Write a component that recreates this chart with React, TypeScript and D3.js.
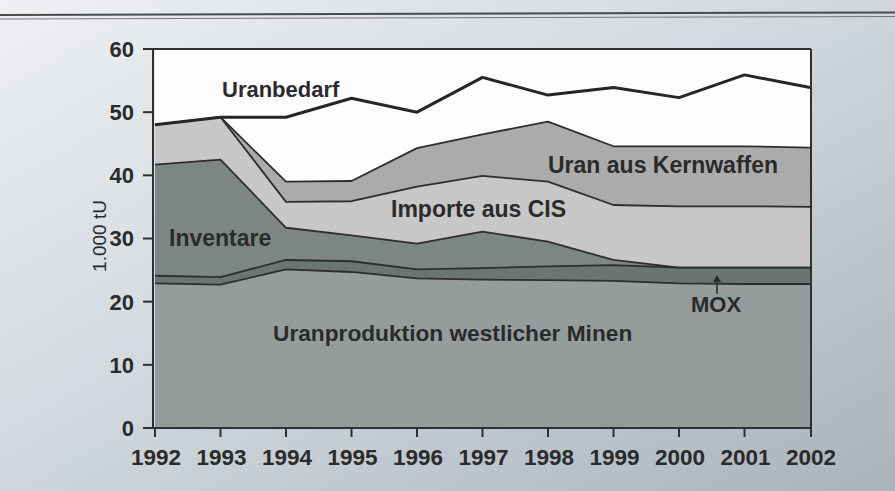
import React, { useEffect, useRef } from 'react';
import * as d3 from 'd3';

const W = 895;
const H = 491;

const years = [1992, 1993, 1994, 1995, 1996, 1997, 1998, 1999, 2000, 2001, 2002];
// 1.000 tU
const produktion = [22.9, 22.7, 25.1, 24.7, 23.7, 23.5, 23.4, 23.3, 22.9, 22.8, 22.8];
const mox = [1.2, 1.2, 1.5, 1.7, 1.4, 1.8, 2.2, 2.5, 2.5, 2.6, 2.6];
const inventare = [17.6, 18.6, 5.1, 4.1, 4.1, 5.8, 3.9, 0.8, 0, 0, 0];
const importe = [6.3, 6.7, 4.1, 5.4, 9.0, 8.8, 9.5, 8.7, 9.7, 9.7, 9.6];
const kernwaffen = [0, 0, 3.2, 3.2, 6.1, 6.6, 9.5, 9.3, 9.5, 9.5, 9.4];
const bedarf = [48.0, 49.2, 49.2, 52.2, 50.0, 55.5, 52.7, 53.9, 52.3, 55.9, 53.9];
const yTicks = [0, 10, 20, 30, 40, 50, 60];

const layerKeys = ['produktion', 'mox', 'inventare', 'importe', 'kernwaffen'];
const layerFill = {
    produktion: '#969b9b',
    mox: '#6d7572',
    inventare: '#7e8684',
    importe: '#c7c7c7',
    kernwaffen: '#ababab',
};

const font = '"Liberation Sans", Arial, sans-serif';
const ink = '#2b2b2b';

function UranChart() {
    const ref = useRef(null);

    useEffect(() => {
        const svg = d3.select(ref.current);
        svg.selectAll('*').remove();

        const left = 155, right = 810, top = 49, bottom = 428;
        const x = d3.scaleLinear().domain([1992, 2002]).range([left, right]);
        const y = d3.scaleLinear().domain([0, 60]).range([bottom, top]);

        // paper background
        const defs = svg.append('defs');
        const grad = defs.append('linearGradient')
            .attr('id', 'paper')
            .attr('x1', '0').attr('y1', '0').attr('x2', '1').attr('y2', '1');
        grad.append('stop').attr('offset', '0').attr('stop-color', '#eef0f2');
        grad.append('stop').attr('offset', '0.45').attr('stop-color', '#d3d9de');
        grad.append('stop').attr('offset', '1').attr('stop-color', '#a9b3bb');
        svg.append('rect').attr('width', W).attr('height', H).attr('fill', 'url(#paper)');

        // double rule on top
        svg.append('line').attr('x1', 0).attr('x2', W).attr('y1', 15).attr('y2', 12.5)
            .attr('stroke', '#4a4a4a').attr('stroke-width', 2);
        svg.append('line').attr('x1', 0).attr('x2', W).attr('y1', 19).attr('y2', 16.5)
            .attr('stroke', '#777').attr('stroke-width', 1);

        // plot background
        svg.append('rect')
            .attr('x', left).attr('y', top)
            .attr('width', right - left).attr('height', bottom - top)
            .attr('fill', '#fdfdfd');

        const table = years.map((yr, i) => ({
            year: yr,
            produktion: produktion[i],
            mox: mox[i],
            inventare: inventare[i],
            importe: importe[i],
            kernwaffen: kernwaffen[i],
        }));
        const series = d3.stack().keys(layerKeys)(table);

        const area = d3.area()
            .x(d => x(d.data.year))
            .y0(d => y(d[0]))
            .y1(d => y(d[1]));
        const topLine = d3.line()
            .x(d => x(d.data.year))
            .y(d => y(d[1]));

        svg.append('g').selectAll('path').data(series).enter()
            .append('path')
            .attr('d', area)
            .attr('fill', s => layerFill[s.key]);

        svg.append('g').selectAll('path').data(series).enter()
            .append('path')
            .attr('d', topLine)
            .attr('fill', 'none')
            .attr('stroke', '#2e2e2e')
            .attr('stroke-width', 1.8)
            .attr('stroke-linejoin', 'round');

        const bedarfLine = d3.line()
            .x((d, i) => x(years[i]))
            .y(d => y(d));
        svg.append('path')
            .attr('d', bedarfLine(bedarf))
            .attr('fill', 'none')
            .attr('stroke', '#262626')
            .attr('stroke-width', 3)
            .attr('stroke-linejoin', 'round');

        // frame
        const frame = '#303030';
        svg.append('line').attr('x1', left - 2).attr('x2', right + 1).attr('y1', top).attr('y2', top)
            .attr('stroke', frame).attr('stroke-width', 2);
        svg.append('line').attr('x1', right + 1).attr('x2', right + 1).attr('y1', top).attr('y2', bottom + 9)
            .attr('stroke', frame).attr('stroke-width', 2);
        svg.append('line').attr('x1', left - 2).attr('x2', left - 2).attr('y1', top).attr('y2', bottom + 1)
            .attr('stroke', frame).attr('stroke-width', 2);
        svg.append('line').attr('x1', left - 2).attr('x2', right + 1).attr('y1', bottom).attr('y2', bottom)
            .attr('stroke', frame).attr('stroke-width', 2);

        // y axis
        const yAxis = svg.append('g');
        yAxis.selectAll('line').data(yTicks).enter()
            .append('line')
            .attr('x1', left - 12).attr('x2', left - 2)
            .attr('y1', d => y(d)).attr('y2', d => y(d))
            .attr('stroke', frame).attr('stroke-width', 2);
        yAxis.selectAll('text').data(yTicks).enter()
            .append('text')
            .attr('x', left - 21)
            .attr('y', d => y(d))
            .attr('dy', '0.36em')
            .attr('text-anchor', 'end')
            .attr('font-family', font)
            .attr('font-weight', 'bold')
            .attr('font-size', 22)
            .attr('fill', ink)
            .text(d => d);

        // x axis
        const xAxis = svg.append('g');
        xAxis.selectAll('line').data(years.slice(0, -1)).enter()
            .append('line')
            .attr('x1', d => x(d)).attr('x2', d => x(d))
            .attr('y1', bottom).attr('y2', bottom + 9)
            .attr('stroke', frame).attr('stroke-width', 2);
        xAxis.selectAll('text').data(years).enter()
            .append('text')
            .attr('x', d => x(d) + 1)
            .attr('y', 465)
            .attr('text-anchor', 'middle')
            .attr('font-family', font)
            .attr('font-weight', 'bold')
            .attr('font-size', 22.5)
            .attr('fill', ink)
            .text(d => d);

        svg.append('text')
            .attr('transform', `translate(106,236) rotate(-90)`)
            .attr('text-anchor', 'middle')
            .attr('font-family', font)
            .attr('font-size', 19)
            .attr('fill', ink)
            .text('1.000 tU');

        // labels inside the chart
        const labels = [
            { t: 'Uranbedarf', x: 222, y: 97, size: 22 },
            { t: 'Uran aus Kernwaffen', x: 548, y: 173, size: 23 },
            { t: 'Importe aus CIS', x: 391, y: 217, size: 23 },
            { t: 'Inventare', x: 169, y: 246, size: 23 },
            { t: 'MOX', x: 691, y: 312, size: 22 },
            { t: 'Uranproduktion westlicher Minen', x: 273, y: 341, size: 22.7 },
        ];
        svg.append('g').selectAll('text').data(labels).enter()
            .append('text')
            .attr('x', d => d.x)
            .attr('y', d => d.y)
            .attr('font-family', font)
            .attr('font-weight', 'bold')
            .attr('font-size', d => d.size)
            .attr('fill', ink)
            .text(d => d.t);

        // MOX arrow
        svg.append('line').attr('x1', 717).attr('x2', 717).attr('y1', 294).attr('y2', 279)
            .attr('stroke', ink).attr('stroke-width', 1.5);
        svg.append('path').attr('d', 'M713,282 L717,275 L721,282 Z').attr('fill', ink);
    }, []);

    return (
        <svg
            ref={ref}
            width={W}
            height={H}
            style={{ position: 'absolute', left: 0, top: 0, display: 'block' }}
        />
    );
}

export default function App() {
    return <UranChart />;
}
